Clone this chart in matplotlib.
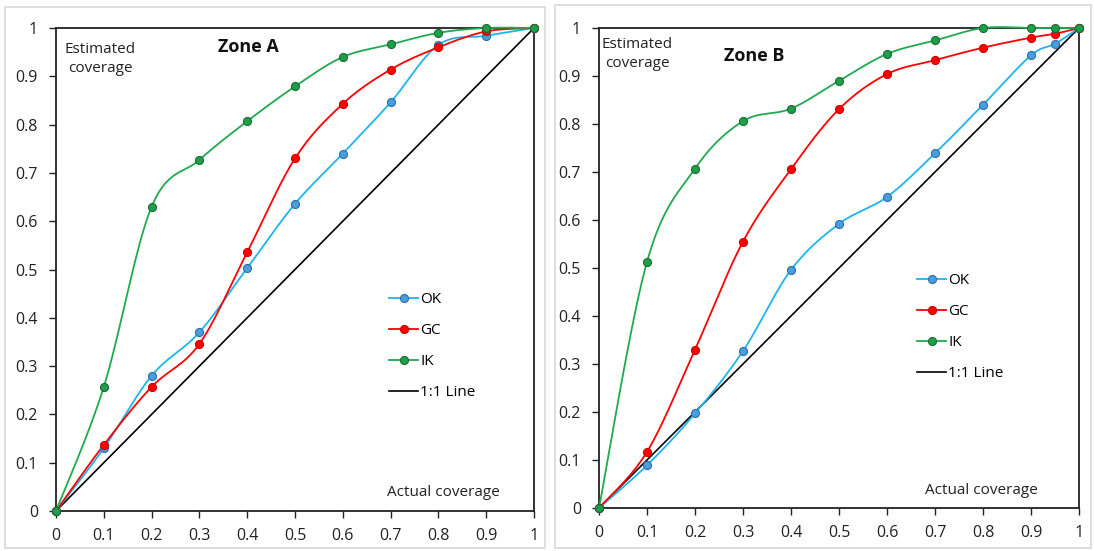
import numpy as np
import matplotlib
matplotlib.use("Agg")
import matplotlib.pyplot as plt
from matplotlib.patches import Rectangle

# ---------------- data ----------------
xa = [0, 0.1, 0.2, 0.3, 0.4, 0.5, 0.6, 0.7, 0.8, 0.9, 1.0]
ok_a = [0, 0.130, 0.280, 0.370, 0.503, 0.636, 0.740, 0.846, 0.965, 0.984, 1.0]
gc_a = [0, 0.137, 0.257, 0.346, 0.536, 0.730, 0.843, 0.914, 0.960, 0.993, 1.0]
ik_a = [0, 0.257, 0.630, 0.727, 0.807, 0.879, 0.940, 0.966, 0.990, 1.000, 1.0]

xb = [0, 0.1, 0.2, 0.3, 0.4, 0.5, 0.6, 0.7, 0.8, 0.9, 0.95, 1.0]
ok_b = [0, 0.089, 0.197, 0.327, 0.496, 0.592, 0.648, 0.739, 0.840, 0.943, 0.967, 1.0]
gc_b = [0, 0.117, 0.330, 0.555, 0.706, 0.831, 0.904, 0.933, 0.959, 0.980, 0.988, 1.0]
ik_b = [0, 0.513, 0.707, 0.806, 0.832, 0.890, 0.946, 0.974, 1.000, 1.000, 1.000, 1.0]

ticks = [0, 0.1, 0.2, 0.3, 0.4, 0.5, 0.6, 0.7, 0.8, 0.9, 1]
tick_labels = ["0", "0.1", "0.2", "0.3", "0.4", "0.5", "0.6", "0.7", "0.8", "0.9", "1"]
series_names = ["OK", "GC", "IK"]
zone_titles = ["Zone A", "Zone B"]

plt.rcParams['font.family'] = ['Open Sans', 'DejaVu Sans']

W, H = 1094, 551


def smooth(x, y, n=30):
    """Excel-like smoothed line (Catmull-Rom Bezier through the data points)."""
    x = np.asarray(x, float)
    y = np.asarray(y, float)
    P = np.column_stack([x, y])
    P = np.vstack([P[0], P, P[-1]])
    out = []
    t = np.linspace(0, 1, n)[:, None]
    for i in range(1, len(P) - 2):
        p0, p1, p2, p3 = P[i - 1], P[i], P[i + 1], P[i + 2]
        c1 = p1 + (p2 - p0) / 6.0
        c2 = p2 - (p3 - p1) / 6.0
        seg = ((1 - t) ** 3) * p1 + 3 * ((1 - t) ** 2) * t * c1 + 3 * (1 - t) * t ** 2 * c2 + t ** 3 * p2
        out.append(seg if i == 1 else seg[1:])
    s = np.vstack(out)
    return s[:, 0], s[:, 1]


fig = plt.figure(figsize=(W / 100, H / 100), dpi=100)

# panel borders
fig.patches.append(Rectangle((5 / W, 1 - 548 / H), 540 / W, 541 / H, transform=fig.transFigure,
                             facecolor='none', edgecolor='#d9d9d9', lw=1.2))
fig.patches.append(Rectangle((555 / W, 1 - 548 / H), 536 / W, 543 / H, transform=fig.transFigure,
                             facecolor='none', edgecolor='#d9d9d9', lw=1.2))

axA = fig.add_axes([56 / W, 1 - 511 / H, 478 / W, 483 / H])
axB = fig.add_axes([599 / W, 1 - 508 / H, 480 / W, 480 / H])

styles = {
    "OK": dict(line='#1EB4F0', mfc='#4A9EDB', mec='#2F6FA8'),
    "GC": dict(line='#FF0000', mfc='#FF0000', mec='#D00000'),
    "IK": dict(line='#1FAA50', mfc='#1E9E48', mec='#1A6B35'),
}

# (axis, x, ys, title, title px pos, legend OK-row px pos, estimated-text px pos, actual-text px pos)
panels = [
    (axA, xa, [ok_a, gc_a, ik_a], zone_titles[0], (248, 47), (389, 299), (100, 59), (500, 492)),
    (axB, xb, [ok_b, gc_b, ik_b], zone_titles[1], (754, 56), (917, 280), (637, 54), (1038, 490)),
]

for ax, xs, ys, title, tpos, lpos, epos, apos in panels:
    handles = []
    for name, y in zip(series_names, ys):
        st = styles[name]
        sx, sy = smooth(xs, y)
        ax.plot(sx, sy, color=st['line'], lw=1.3, zorder=3, clip_on=False)
        ax.plot(xs, y, ls='none', marker='o', ms=5.8, mfc=st['mfc'], mec=st['mec'], mew=0.8,
                zorder=4, clip_on=False)
        h, = ax.plot([], [], color=st['line'], lw=1.3, marker='o', ms=5.8, mfc=st['mfc'],
                     mec=st['mec'], mew=0.8, label=name)
        handles.append(h)
    ax.plot([0, 1], [0, 1], color='black', lw=1.2, zorder=2)
    h, = ax.plot([], [], color='black', lw=1.2, label='1:1 Line')
    handles.append(h)

    ax.set_xlim(0, 1)
    ax.set_ylim(0, 1)
    ax.set_xticks(ticks)
    ax.set_xticklabels(tick_labels)
    ax.set_yticks(ticks)
    ax.set_yticklabels(tick_labels)
    ax.tick_params(direction='out', length=5, width=1, labelsize=11.5, colors='#222222')
    ax.tick_params(axis='x', pad=7)
    ax.tick_params(axis='y', pad=8)
    for sp in ax.spines.values():
        sp.set_linewidth(1.3)
        sp.set_color('#222222')

    leg = fig.legend(handles=handles, loc='center left',
                     bbox_to_anchor=(lpos[0] / W, 1 - (lpos[1] + 47) / H),
                     frameon=False, fontsize=11, handlelength=1.9, handletextpad=0.15,
                     labelspacing=1.05, borderaxespad=0, borderpad=0)

    fig.text(epos[0] / W, 1 - epos[1] / H, "Estimated\ncoverage", ha='center', va='center',
             fontsize=11, linespacing=1.3, color='#222222')
    fig.text(apos[0] / W, 1 - apos[1] / H, "Actual coverage", ha='right', va='center',
             fontsize=11, color='#222222')
    fig.text(tpos[0] / W, 1 - tpos[1] / H, title, ha='center', va='center', fontsize=13,
             fontweight='bold', color='#111111')

fig.savefig("out.png", dpi=100)
